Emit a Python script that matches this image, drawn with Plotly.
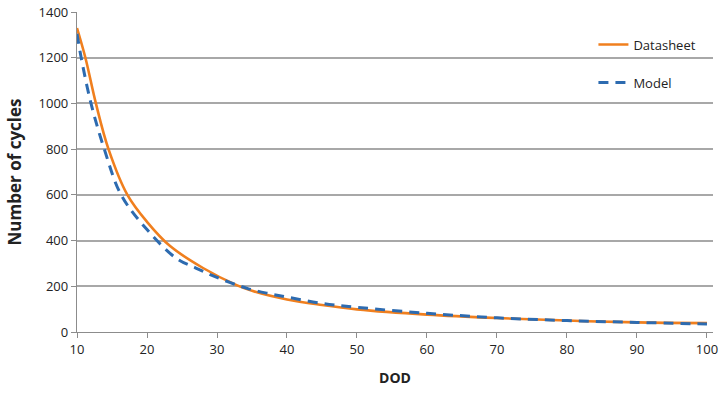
import plotly.graph_objects as go

dod_ds = [10, 11.2, 12.7, 14.5, 17.2, 20, 23.3, 28, 32.8, 35, 40, 45, 50, 60, 70, 80, 90, 100]
cycles_ds = [1330, 1200, 1000, 800, 600, 482, 376, 280, 205, 180, 142, 118, 99, 76, 61, 50, 42, 39]

dod_model = [10, 10.6, 12.0, 13.9, 16.3, 20, 24.2, 26.9, 29.2, 31.9, 34.4, 37.1, 40, 45, 50, 60, 70, 80, 90, 100]
cycles_model = [1305, 1200, 1000, 800, 600, 448, 322, 281, 249, 216, 190, 170, 153, 125, 108, 82, 62, 50, 42, 35]

x_ticks = [10, 20, 30, 40, 50, 60, 70, 80, 90, 100]
y_ticks = [0, 200, 400, 600, 800, 1000, 1200, 1400]

fig = go.Figure()
fig.add_trace(go.Scatter(
    x=dod_ds, y=cycles_ds, mode="lines", name="Datasheet",
    line=dict(color="#F07F1E", width=2.6, shape="spline", smoothing=1.0),
    legendgroup="a",
))
fig.add_trace(go.Scatter(
    x=dod_model, y=cycles_model, mode="lines", name="Model",
    line=dict(color="#2D6BB0", width=3, dash="10px,7px", shape="spline", smoothing=1.0),
    legendgroup="b",
))

fig.update_layout(
    width=722, height=396,
    margin=dict(l=77, r=9, t=12, b=64, autoexpand=False),
    paper_bgcolor="white", plot_bgcolor="white",
    font=dict(family="Open Sans, Liberation Sans, sans-serif", size=13, color="#222"),
    legend=dict(x=0.812, y=0.945, xanchor="left", yanchor="top",
                bgcolor="rgba(0,0,0,0)", tracegroupgap=18,
                traceorder="grouped", font=dict(size=13)),
    xaxis=dict(
        range=[10, 100.86], tickvals=x_ticks, showgrid=False, automargin=False,
        showline=True, linecolor="#8C8C8C", linewidth=1.3,
        ticks="outside", ticklen=5, tickcolor="#8C8C8C",
        ticklabeloverflow="allow",
        title=dict(text="<b>DOD</b>", font=dict(size=14), standoff=16),
        zeroline=False,
    ),
    yaxis=dict(
        range=[0, 1400], tickvals=y_ticks, showgrid=True, automargin=False,
        gridcolor="#A8A8A8", gridwidth=1.5,
        showline=True, linecolor="#8C8C8C", linewidth=1.3,
        ticks="outside", ticklen=5, tickcolor="#8C8C8C",
        ticklabeloverflow="allow",
        title=dict(text="<b>Number of cycles</b>", font=dict(size=17), standoff=12),
        zeroline=False,
    ),
)

fig.write_html("out.html", config={"displayModeBar": False},
               post_script="document.body.style.margin='0';")
